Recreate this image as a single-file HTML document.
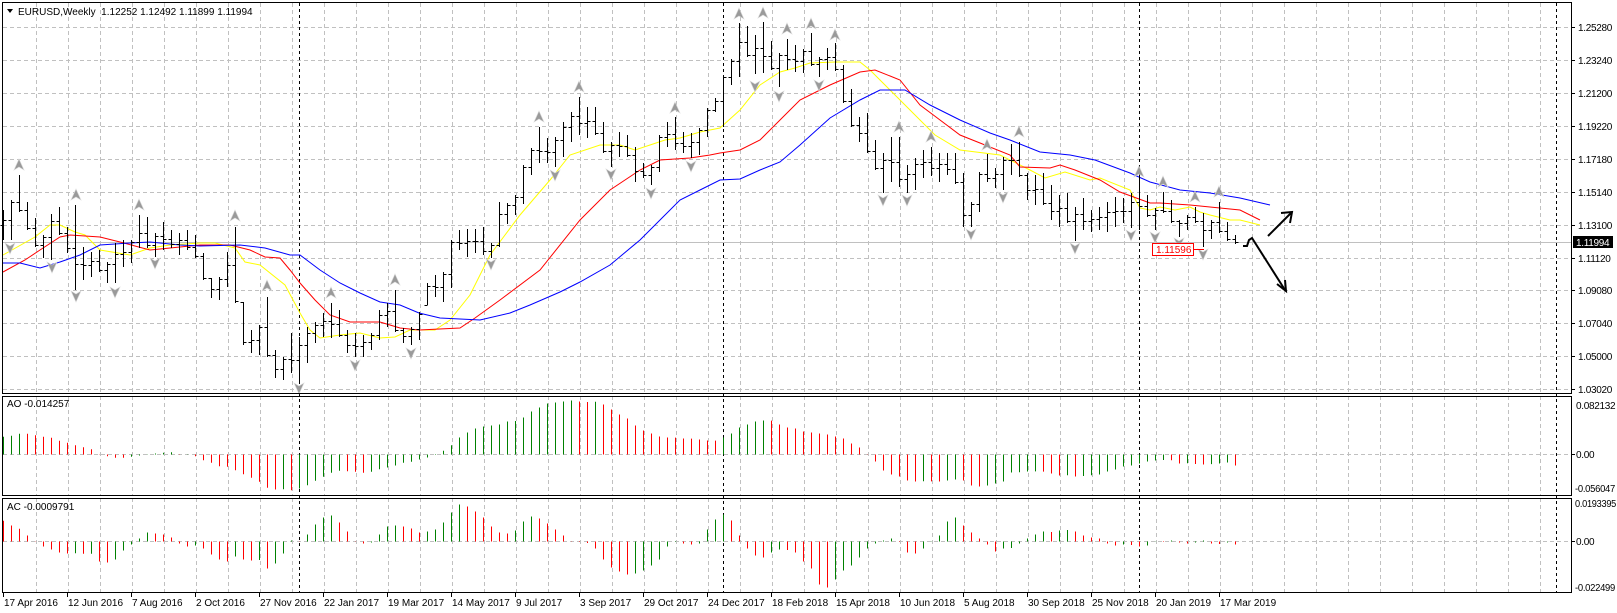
<!DOCTYPE html>
<html><head><meta charset="utf-8"><style>
html,body{margin:0;padding:0;background:#fff;width:1617px;height:613px;overflow:hidden}
svg{display:block}
text{font-family:"Liberation Sans",sans-serif;font-size:10px;fill:#000}
text.r{letter-spacing:-0.3px}
</style></head><body>
<svg id="c" width="1617" height="613" xmlns="http://www.w3.org/2000/svg"></svg>
<script>
var s='';
function L(x1,y1,x2,y2,c,w,d){s+='<line x1="'+x1+'" y1="'+y1+'" x2="'+x2+'" y2="'+y2+'" stroke="'+c+'" stroke-width="'+(w||1)+'"'+(d?' stroke-dasharray="'+d+'"':'')+'/>';}
function T(x,y,t,a){s+='<text x="'+x+'" y="'+y+'" '+(a||'')+'>'+t+'</text>';}
var R=1571;
for(var k=1;k<=48;k++){var gx=4+32*k+0.5;L(gx,3,gx,393,'#c0c0c0',1,'4,3');L(gx,396,gx,495,'#c0c0c0',1,'4,3');L(gx,498,gx,592,'#c0c0c0',1,'4,3');}
var py=[27,60,93,126,159,192,225,258,290,323,356,389];
var pl=['1.25280','1.23240','1.21200','1.19220','1.17180','1.15140','1.13100','1.11120','1.09080','1.07040','1.05000','1.03020'];
for(var i=0;i<py.length;i++){L(3,py[i]+.5,R,py[i]+.5,'#c0c0c0',1,'4,3');L(R,py[i]+.5,R+4,py[i]+.5,'#000');T(1578,py[i]+4,pl[i],'class="r"');}
L(3,454.5,R,454.5,'#c0c0c0',1,'4,3');L(3,541.5,R,541.5,'#c0c0c0',1,'4,3');
L(R,454.5,R+4,454.5,'#000');L(R,541.5,R+4,541.5,'#000');
L(3,242.5,R,242.5,'#c0c0c0',1);
[299,723,1139,1556].forEach(function(x){L(x+.5,3,x+.5,592,'#000',1,'3,3');});
function P(pts,c){s+='<polyline fill="none" stroke="'+c+'" stroke-width="1" points="'+pts.map(function(p){return p.join(',')}).join(' ')+'"/>';}
P([[3,255],[35,237],[50,225],[60,225],[75,232],[85,235],[100,250],[130,255],[150,248],[170,245],[200,243],[215,243],[235,248],[245,262],[260,265],[285,285],[300,313],[310,330],[320,338],[340,335],[360,333],[380,338],[395,337],[410,330],[435,330],[450,320],[470,295],[490,255],[520,215],[550,180],[570,155],[600,145],[620,145],[635,150],[650,145],[665,140],[680,138],[700,132],[720,128],[740,110],[760,85],[780,72],[795,68],[810,63],[835,62],[860,62],[870,70],[900,100],[935,135],[960,150],[1000,155],[1030,170],[1045,178],[1065,172],[1090,180],[1100,178],[1130,190],[1140,208],[1150,210],[1160,207],[1175,210],[1190,207],[1200,212],[1210,215],[1230,220],[1240,220],[1260,225]],'#ffff00');
P([[3,272],[25,260],[40,250],[60,237],[70,235],[100,237],[120,242],[150,250],[170,248],[200,245],[230,245],[250,250],[265,257],[280,258],[290,270],[300,283],[315,300],[330,315],[350,322],[380,322],[400,328],[419,330],[460,328],[475,318],[500,300],[540,270],[580,220],[610,190],[640,170],[660,160],[690,158],[710,155],[720,153],[740,150],[760,140],[780,120],[800,100],[830,85],[860,72],[875,70],[900,80],[920,105],[940,120],[960,135],[985,145],[1010,155],[1020,167],[1050,168],[1060,165],[1075,170],[1100,180],[1120,192],[1150,203],[1160,203],[1190,205],[1220,208],[1240,210],[1260,220]],'#ff0000');
P([[3,263],[20,263],[40,268],[60,262],[80,255],[100,245],[130,243],[150,242],[180,245],[200,246],[240,245],[265,248],[290,255],[300,255],[320,270],[340,283],[360,293],[380,302],[400,305],[419,313],[440,318],[480,320],[510,313],[530,305],[560,292],[580,282],[610,265],[640,240],[660,220],[680,200],[700,190],[720,180],[740,179],[760,170],[780,162],[800,145],[830,118],[860,100],[880,90],[905,90],[930,105],[960,120],[990,133],[1010,140],[1040,152],[1070,155],[1095,160],[1130,173],[1150,182],[1180,190],[1210,193],[1240,198],[1270,205]],'#0000ff');
var B=[[210,240],[200,240],[175,212],[202,230],[218,247],[235,258],[214,260],[207,235],[227,253],[205,290],[247,280],[252,277],[250,272],[262,283],[243,283],[240,267],[240,263],[215,248],[217,248],[233,257],[222,250],[230,248],[233,255],[230,250],[235,258],[253,280],[278,298],[277,300],[252,287],[227,303],[302,345],[330,353],[325,355],[297,357],[350,378],[357,380],[333,373],[337,383],[327,363],[322,343],[313,337],[303,338],[310,337],[330,353],[333,357],[335,357],[333,350],[310,340],[303,327],[290,332],
[328,343],[327,345],[312,340],[283,305],[275,297],[272,302],[240,288],[230,250],[229,257],[229,253],[227,255],[243,258],[202,247],[203,224],[195,215],[165,204],[148,175],[127,163],[138,163],[137,167],[122,157],[112,142],[97,135],[107,138],[107,135],[122,153],[142,167],[132,157],[135,157],[147,182],[163,178],[165,185],[135,172],[122,147],[117,150],[132,153],[133,158],[128,155],[108,137],[98,112],[75,127],[59,85],[23,77],[26,57],[35,74],[22,73],[41,70],[53,87],[39,70],[45,72],[49,73],[33,66],[57,77],[48,70],[43,71],[65,103],[89,127],[117,142],[113,153],[140,170],[153,193],[137,182],[137,187],[165,193],[158,190],[150,178],[147,176],[153,182],[153,175],[153,184],[173,227],[202,227],[172,212],[154,182],[168,188],[157,190],[144,175],[142,177],[173,200],[175,205],[173,205],[185,220],[195,227],[193,223],[207,241],[198,230],[210,232],[207,230],[202,232],[197,227],[198,223],[193,228],[173,230],[195,217],[208,230],[192,213],[200,223],[220,237],[215,230],[207,223],[213,247],[220,239],[202,233],[222,241],[235,244]];
function cl(v,a,b){return Math.max(a,Math.min(b,v));}
var prevC=null;
for(var i=0;i<B.length;i++){var h=B[i][0],l=B[i][1],x=3+8*i+.5;
 var c=(i<B.length-1)?cl(Math.round((B[i+1][0]+B[i+1][1])/2),h+2,l-2):242;
 var o=prevC===null?Math.round((h+l)/2):cl(prevC,h,l);
 L(x,h,x,l,'#000');L(x-3,o+.5,x,o+.5,'#000');L(x,c+.5,x+3,c+.5,'#000');prevC=c;}
function F(x,y,up){var d=up?'M'+x+','+(y-6)+' L'+(x+5)+','+(y+5)+' L'+x+','+(y+2)+' L'+(x-5)+','+(y+5)+'Z':'M'+x+','+(y+6)+' L'+(x+5)+','+(y-5)+' L'+x+','+(y-2)+' L'+(x-5)+','+(y-5)+'Z';s+='<path d="'+d+'" fill="#9a9a9a" stroke="#d8d8d8" stroke-width="0.6"/>';}
[[19,165],[76,195],[139,205],[235,216],[267,286],[331,293],[395,280],[539,117],[579,87],[675,108],[739,14],[763,13],[787,29],[811,24],[835,35],[899,127],[931,137],[987,145],[1019,132],[1139,172],[1163,182],[1195,197],[1219,192]].forEach(function(p){F(p[0],p[1],1);});
[[10,248],[52,267],[76,296],[115,292],[155,263],[299,388],[355,365],[411,353],[491,264],[555,175],[611,174],[651,193],[691,166],[755,86],[779,96],[819,85],[883,200],[907,200],[971,234],[1003,197],[1075,248],[1131,235],[1155,237],[1179,243],[1203,254]].forEach(function(p){F(p[0],p[1],0);});
s+='<rect x="1152.5" y="243.5" width="41" height="12" fill="#fff" stroke="#ff0000"/>';
L(1193,249.5,1204,249.5,'#ff0000');
T(1156,253,'1.11596','style="fill:#ff0000"');
s+='<path d="M1243,246 L1247,246 L1249,240 L1252,238 L1285,290" fill="none" stroke="#000" stroke-width="2"/>';
s+='<path d="M1277,284 L1286,291 L1285,280" fill="none" stroke="#000" stroke-width="2"/>';
s+='<path d="M1268,236 L1291,213" fill="none" stroke="#000" stroke-width="2"/>';
s+='<path d="M1281,213 L1292,212 L1290,223" fill="none" stroke="#000" stroke-width="2"/>';
var AO=[17.7,18.7,20.7,20.7,19.3,17.7,16.7,13.7,11.7,9.3,7.3,5.3,0.3,-1.7,-3.3,-3.3,-2.3,-1,0.3,1,1.7,2.3,-0.3,-0.2,-1.7,-5.7,-8.3,-11.7,-12.3,-15.7,-19.7,-23.3,-27.3,-33.3,-35,-34.7,-35.7,-34,-30.7,-26.3,-22.3,-18.3,-16.3,-16.7,-17.3,-18.3,-17.3,-14.7,-13,-11,
-8.3,-7.3,-5,-3,0.5,3.7,9.3,17,22,26,28,29,30,33,33.5,37,43,47,51,52,53,54,53,52.5,52.7,50,45,40,36,29,24,21,18,17,16.9,16,15.9,15,14,13.9,17,21,27,30,33,34,33.9,30,27,26,23,22,21,20,18,16,11,7,0.3,-7,-16,-20,-22,-26,-27,-26.8,-26.9,-27,-26,-25,-26,-31,-32,-31,-29,-27,-18,-17.8,-17,-16.9,-17.1,-19,-21,-20.8,-22,-21.5,-20.8,-20,-17,-15,-12,-11,-9,-7,-6,-5.5,-5.8,-9,-8.8,-9.5,-10,-9.6,-9,-8,-11];
for(var i=0;i<AO.length;i++){var x=3+8*i+.5,v=AO[i],c=(i>0&&v>AO[i-1])?'#008000':(i==0?'#008000':'#ff0000');L(x,454.5,x,454.5-v,c,1);}
var AC=[20.7,16,12.7,6,0.3,-5,-8,-11,-12,-11.7,-12.3,-12.2,-20,-21,-18,-9,-3,3,9,8,7,4,-2,-5,-4,-7,-13,-18,-20,-15,-18,-19,-18.5,-27,-22,-12,1,0.3,7,17,24,26,19,10,0.2,-2,-1,7,15,16,
15,13,9,10,12,19,29,37,35,30,24,15,9,8,11,20,25,23,18,12,6,0.2,-0.5,-1.5,-7,-18,-26,-30,-33,-32,-29,-24,-18,-5,-0.5,-2,-3,-2,12,22,27,21,6,-7,-14,-16,-11,-8,-8.5,-11,-20,-27,-43,-46,-38,-29,-24,-16,-7,-2,1,3,-0.5,-11,-12,-7,0.3,6,20,24,16,9,3,-3,-10,-7,-6.5,-2,3,7,10,9.5,11,11.5,10,6,4,3,-2,-4,-3,-3.5,-5,-4,0.3,-0.5,1,-1,-2,-1,1,-2,-2.5,-1,-3];
for(var i=0;i<AC.length;i++){var x=3+8*i+.5,v=AC[i],c=(i>0&&v>AC[i-1])?'#008000':'#ff0000';L(x,541.5,x,541.5-v,c,1);}
s+='<rect x="2.5" y="2.5" width="1569" height="391" fill="none" stroke="#000"/>';
s+='<rect x="2.5" y="396.5" width="1569" height="99" fill="none" stroke="#000"/>';
s+='<rect x="2.5" y="498.5" width="1569" height="94" fill="none" stroke="#000"/>';
s+='<path d="M7,9 L13,9 L10,13Z" fill="#000"/>';
T(18,15,'EURUSD,Weekly&#160;&#160;1.12252 1.12492 1.11899 1.11994');
T(7,407,'AO -0.014257');T(7,510,'AC -0.0009791');
s+='<rect x="1573" y="236" width="40" height="12" fill="#000"/>';
T(1576,246,'1.11994','class="r" style="fill:#fff"');
T(1576,409,'0.082132','class="r"');T(1576,458,'0.00','class="r"');T(1575,492,'-0.056047','class="r" textLength="40" lengthAdjust="spacingAndGlyphs"');
T(1575,507,'0.0193395','class="r" textLength="41" lengthAdjust="spacingAndGlyphs"');T(1576,545,'0.00','class="r"');T(1575,591,'-0.022499','class="r" textLength="40" lengthAdjust="spacingAndGlyphs"');
var D=['17 Apr 2016','12 Jun 2016','7 Aug 2016','2 Oct 2016','27 Nov 2016','22 Jan 2017','19 Mar 2017','14 May 2017','9 Jul 2017','3 Sep 2017','29 Oct 2017','24 Dec 2017','18 Feb 2018','15 Apr 2018','10 Jun 2018','5 Aug 2018','30 Sep 2018','25 Nov 2018','20 Jan 2019','17 Mar 2019'];
for(var i=0;i<D.length;i++){var x=3+64*i;L(x+.5,593,x+.5,597,'#000');T(x+1,606,D[i]);}
document.getElementById('c').innerHTML=s;
</script>
</body></html>
